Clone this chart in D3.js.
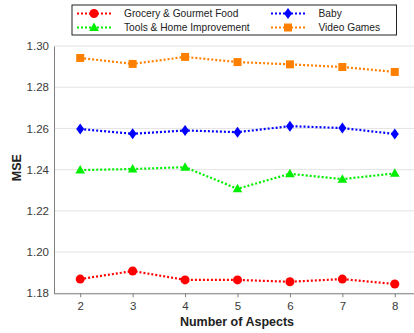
<!DOCTYPE html>
<html>
<head>
<meta charset="utf-8">
<script src="https://cdn.jsdelivr.net/npm/d3@7"></script>
<style>
  html, body { margin: 0; padding: 0; background: #fff; }
  svg { display: block; font-family: "Liberation Sans", Arial, sans-serif; }
</style>
</head>
<body>
<svg id="chart" width="414" height="333"></svg>
<script>
// Number of aspects on the x axis
const aspects = [2, 3, 4, 5, 6, 7, 8];
// MSE per dataset
const grocery = [1.1869, 1.1908, 1.1865, 1.1865, 1.1856, 1.1869, 1.1845];
const baby    = [1.2597, 1.2574, 1.2590, 1.2582, 1.2611, 1.2602, 1.2573];
const tools   = [1.2398, 1.2403, 1.2412, 1.2307, 1.2380, 1.2354, 1.2382];
const games   = [1.2942, 1.2913, 1.2947, 1.2922, 1.2911, 1.2898, 1.2874];
const yTicks  = [1.18, 1.20, 1.22, 1.24, 1.26, 1.28, 1.30];

const series = [
  { name: "Grocery & Gourmet Food",  values: grocery, color: "#ff0000", symbol: "circle" },
  { name: "Baby",                    values: baby,    color: "#0000ff", symbol: "diamond" },
  { name: "Tools & Home Improvement", values: tools,  color: "#00ee00", symbol: "triangle" },
  { name: "Video Games",             values: games,   color: "#ff8000", symbol: "square" }
];

const svg = d3.select("#chart");
const plotLeft = 54, plotTop = 46, plotBottom = 293.3;

const x = d3.scaleLinear().domain([1.5, 8.5]).range([plotLeft, 421]);
const y = d3.scaleLinear().domain([1.18, 1.30]).range([plotBottom, plotTop]);

// horizontal grid
svg.append("g")
  .selectAll("line")
  .data(yTicks)
  .join("line")
  .attr("x1", plotLeft).attr("x2", 414)
  .attr("y1", d => y(d)).attr("y2", d => y(d))
  .attr("stroke", "#e3e3e3").attr("stroke-width", 1);

// x axis
const xAxis = svg.append("g")
  .attr("transform", `translate(0,${plotBottom})`)
  .call(d3.axisBottom(x).tickValues(aspects).tickFormat(d3.format("d"))
    .tickSize(4).tickSizeOuter(0).tickPadding(5));
xAxis.select(".domain").attr("d", `M${plotLeft},0.5H414`);

// y axis
const yAxis = svg.append("g")
  .attr("transform", `translate(${plotLeft},0)`)
  .call(d3.axisLeft(y).tickValues(yTicks).tickFormat(d3.format(".2f")).tickSize(0).tickSizeOuter(0).tickPadding(5));

[xAxis, yAxis].forEach(a => {
  a.select(".domain").attr("stroke", "#808080").attr("stroke-width", 1);
  a.selectAll(".tick line").attr("stroke", "#808080");
  a.selectAll(".tick text").attr("fill", "#3a3a3a").style("font-size", "11.5px");
});

// axis titles
svg.append("text")
  .attr("x", (plotLeft + 414) / 2 + 3).attr("y", 326)
  .attr("text-anchor", "middle")
  .attr("font-weight", "bold").attr("font-size", "12.5px").attr("fill", "#222")
  .text("Number of Aspects");
svg.append("text")
  .attr("transform", `translate(21,${(plotTop + plotBottom) / 2 - 2}) rotate(-90)`)
  .attr("text-anchor", "middle")
  .attr("font-weight", "bold").attr("font-size", "12.5px").attr("fill", "#222")
  .text("MSE");

// marker shapes
function markerPath(symbol) {
  switch (symbol) {
    case "circle":   return d3.symbol(d3.symbolCircle, 64)();
    case "square":   return "M-4,-4H4V4H-4Z";
    case "diamond":  return "M0,-5.5L4,0L0,5.5L-4,0Z";
    case "triangle": return "M0,-5L4.8,3.5H-4.8Z";
  }
}

const line = d3.line().x((d, i) => x(aspects[i])).y(d => y(d));

series.forEach(s => {
  const g = svg.append("g");
  g.append("path")
    .attr("d", line(s.values))
    .attr("fill", "none")
    .attr("stroke", s.color)
    .attr("stroke-width", 2.2)
    .attr("stroke-dasharray", "2,2");
  g.selectAll("path.m")
    .data(s.values)
    .join("path")
    .attr("class", "m")
    .attr("transform", (d, i) => `translate(${x(aspects[i])},${y(d)})`)
    .attr("d", markerPath(s.symbol))
    .attr("fill", s.color);
});

// legend
const lg = svg.append("g");
lg.append("rect")
  .attr("x", 72).attr("y", 5).attr("width", 324.5).attr("height", 30)
  .attr("fill", "#fff").attr("stroke", "#222").attr("stroke-width", 1);

const legendPos = [
  { lx: 77,  tx: 124,   ty: 13.5 },
  { lx: 271, tx: 318.5, ty: 13.5 },
  { lx: 77,  tx: 124,   ty: 27.5 },
  { lx: 271, tx: 318.5, ty: 27.5 }
];
series.forEach((s, i) => {
  const p = legendPos[i];
  const item = lg.append("g");
  item.append("line")
    .attr("x1", p.lx).attr("x2", p.lx + 34)
    .attr("y1", p.ty).attr("y2", p.ty)
    .attr("stroke", s.color).attr("stroke-width", 2.2)
    .attr("stroke-dasharray", "2,2");
  item.append("path")
    .attr("transform", `translate(${p.lx + 17},${p.ty})`)
    .attr("d", markerPath(s.symbol))
    .attr("fill", s.color);
  item.append("text")
    .attr("x", p.tx).attr("y", p.ty + 3.6)
    .attr("font-size", "10.2px").attr("fill", "#222")
    .text(s.name);
});
</script>
</body>
</html>
